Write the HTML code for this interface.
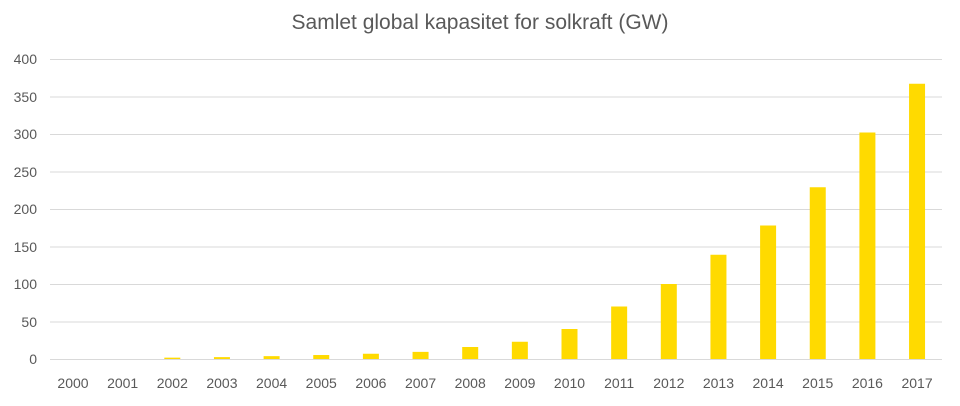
<!DOCTYPE html>
<html><head><meta charset="utf-8"><style>body{margin:0;background:#fff}</style></head>
<body>
<svg width="960" height="401" xmlns="http://www.w3.org/2000/svg" font-family="Liberation Sans, sans-serif">
<rect width="960" height="401" fill="#fff"/>
<text x="480" y="29" text-anchor="middle" font-size="21" fill="#595959">Samlet global kapasitet for solkraft (GW)</text>
<g stroke="#d9d9d9" stroke-width="1">
<line x1="50" x2="942" y1="59.5" y2="59.5"/><line x1="50" x2="942" y1="97" y2="97"/>
<line x1="50" x2="942" y1="134.5" y2="134.5"/><line x1="50" x2="942" y1="172" y2="172"/>
<line x1="50" x2="942" y1="209.5" y2="209.5"/><line x1="50" x2="942" y1="247" y2="247"/>
<line x1="50" x2="942" y1="284.5" y2="284.5"/><line x1="50" x2="942" y1="322" y2="322"/>
<line x1="50" x2="942" y1="359.5" y2="359.5"/>
</g>
<g font-size="14" fill="#595959" text-anchor="end">
<text x="37" y="64">400</text><text x="37" y="102">350</text><text x="37" y="139">300</text>
<text x="37" y="177">250</text><text x="37" y="214">200</text><text x="37" y="252">150</text>
<text x="37" y="289">100</text><text x="37" y="327">50</text><text x="37" y="364">0</text>
</g>
<g id="bars" fill="#FFDA00"></g>
<g id="labs" font-size="14" fill="#595959" text-anchor="middle"></g>
<script>
var v=[0,0,1.8,2.5,3.8,5.3,7,9.5,16,23,40,70,100,139,178,229,302,367];
var b=document.getElementById('bars'),l=document.getElementById('labs'),ns='http://www.w3.org/2000/svg';
for(var i=0;i<18;i++){var cx=73+i*49.65;var h=v[i]*0.75;
var r=document.createElementNS(ns,'rect');r.setAttribute('x',cx-8);r.setAttribute('y',359-h);r.setAttribute('width',16);r.setAttribute('height',h);b.appendChild(r);
var t=document.createElementNS(ns,'text');t.setAttribute('x',cx);t.setAttribute('y',388);t.textContent=2000+i;l.appendChild(t);}
</script>
</svg>
</body></html>
